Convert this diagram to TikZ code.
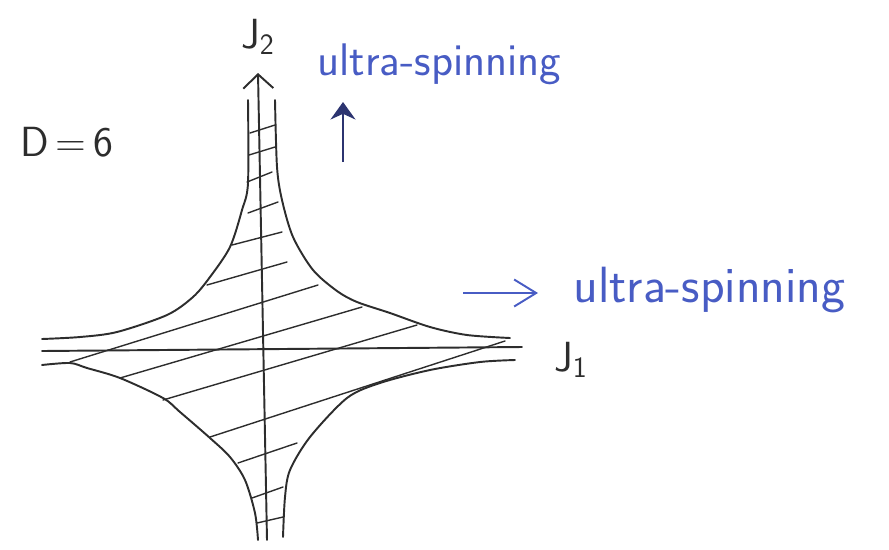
\documentclass[tikz,border=0pt]{standalone}
\usepackage{tikz}
\usetikzlibrary{arrows.meta}
\definecolor{ink}{RGB}{45,45,45}
\definecolor{inkblue}{RGB}{72,92,196}
\definecolor{inknavy}{RGB}{44,52,112}

\begin{document}
\begin{tikzpicture}[x=0.02cm,y=-0.02cm,
  curve/.style={ink,line width=1.1pt,line cap=round},
  hatch/.style={ink,line width=0.8pt,line cap=round},
  lbl/.style={ink,font=\sffamily\fontsize{24}{26}\selectfont,inner sep=0pt},
  bluelbl/.style={inkblue,font=\sffamily\fontsize{26}{28}\selectfont,inner sep=0pt}]
\useasboundingbox (0,0) rectangle (889,549);

% axes
\coordinate (j2bot) at (267,540);
\coordinate (j2top) at (258,73);
\coordinate (j1left) at (42,351);
\coordinate (j1right) at (522,347);
\draw[curve,-{Straight Barb[length=2.8mm,width=6mm]}] (j2bot) -- (j2top);
\draw[curve] (j1left) -- (j1right);
\node[lbl] (jtwo) at (258,37) {J\textsubscript{2}};
\node[lbl] (jone) at (571,360) {J\textsubscript{1}};
\node[lbl] (dim) at (67,142) {D\,=\,6};

% the four branches
\draw[curve] plot[smooth] coordinates {(248,100) (248,183) (242,210) (230,247) (210,277) (193,297) (167,315) (117,332) (80,337) (42,339)};
\draw[curve] plot[smooth] coordinates {(275,100) (277,167) (282,200) (293,237) (313,270) (337,291) (357,302) (390,313) (430,327) (467,335) (510,338)};
\draw[curve] plot[smooth] coordinates {(42,365) (70,363) (87,368) (120,378) (163,398) (180,412) (210,438) (230,457) (245,480) (255,513) (258,540)};
\draw[curve] plot[smooth] coordinates {(515,360) (480,362) (430,370) (380,383) (347,398) (310,437) (290,470) (285,497) (283,537)};

% hatching
\foreach \xa/\ya/\xb/\yb in {250/133/275/125, 249/155/275/147, 247/182/272/172,
  248/213/278/202, 232/245/282/232, 207/285/287/262, 70/362/318/285,
  120/378/362/307, 163/400/417/325, 210/437/505/341, 238/463/297/443,
  252/498/283/487, 257/523/283/517}
  \draw[hatch] (\xa,\ya) -- (\xb,\yb);

% ultra-spinning directions
\node[bluelbl,anchor=base west] (uptext) at (317,75) {ultra-spinning};
\coordinate (upfrom) at (343,162);
\coordinate (upto) at (343,102);
\draw[inknavy,line width=1.3pt,-{Stealth[length=3.5mm,width=5mm]}] (upfrom) -- (upto);
\node[bluelbl,anchor=base west,font=\sffamily\fontsize{29}{31}\selectfont] (righttext) at (573,302) {ultra-spinning};
\coordinate (rtfrom) at (463,293);
\coordinate (rtto) at (538,293);
\draw[inkblue,line width=1.1pt,-{Straight Barb[length=4.4mm,width=5.4mm]}] (rtfrom) -- (rtto);
\end{tikzpicture}
\end{document}
